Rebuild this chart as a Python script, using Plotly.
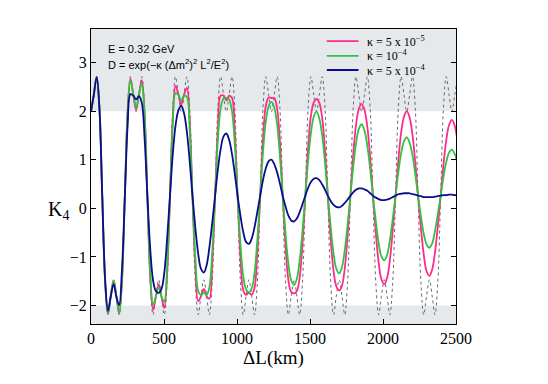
import plotly.graph_objects as go

# baseline difference in km (sampled at ~1/16 of the oscillation period)
dl_km = [
    0, 19, 39, 58, 77, 97, 116, 135, 155, 174, 193, 212, 232, 251, 270, 290,
    309, 328, 348, 367, 386, 406, 425, 444, 464, 483, 502, 521, 541, 560, 579, 599,
    618, 637, 657, 676, 695, 715, 734, 753, 773, 792, 811, 830, 850, 869, 888, 908,
    927, 946, 966, 985, 1004, 1024, 1043, 1062, 1082, 1101, 1120, 1139, 1159, 1178, 1197, 1217,
    1236, 1255, 1275, 1294, 1313, 1333, 1352, 1371, 1391, 1410, 1429, 1448, 1468, 1487, 1506, 1526,
    1545, 1564, 1584, 1603, 1622, 1642, 1661, 1680, 1700, 1719, 1738, 1757, 1777, 1796, 1815, 1835,
    1854, 1873, 1893, 1912, 1931, 1951, 1970, 1989, 2009, 2028, 2047, 2066, 2086, 2105, 2124, 2144,
    2163, 2182, 2202, 2221, 2240, 2260, 2279, 2298, 2318, 2337, 2356, 2375, 2395, 2414, 2433, 2453,
    2472, 2491, 2511,
]

# no decoherence (dotted)
k4_no_dec = [
    1.99, 2.33, 2.71, 2.06, 0.26, -1.54, -2.19, -1.81, -1.47, -1.81, -2.19, -1.54, 0.26, 2.06, 2.71, 2.33,
    1.99, 2.33, 2.71, 2.06, 0.26, -1.54, -2.19, -1.81, -1.47, -1.81, -2.19, -1.54, 0.26, 2.06, 2.71, 2.33,
    1.99, 2.33, 2.71, 2.06, 0.26, -1.54, -2.19, -1.81, -1.47, -1.81, -2.19, -1.54, 0.26, 2.06, 2.71, 2.33,
    1.99, 2.33, 2.71, 2.06, 0.26, -1.54, -2.19, -1.81, -1.47, -1.81, -2.19, -1.54, 0.26, 2.06, 2.71, 2.33,
    1.99, 2.33, 2.71, 2.06, 0.26, -1.54, -2.19, -1.81, -1.47, -1.81, -2.19, -1.54, 0.26, 2.06, 2.71, 2.33,
    1.99, 2.33, 2.71, 2.06, 0.26, -1.54, -2.19, -1.81, -1.47, -1.81, -2.19, -1.54, 0.26, 2.06, 2.71, 2.33,
    1.99, 2.33, 2.71, 2.06, 0.26, -1.54, -2.19, -1.81, -1.47, -1.81, -2.19, -1.54, 0.26, 2.06, 2.71, 2.33,
    1.99, 2.33, 2.71, 2.06, 0.26, -1.54, -2.19, -1.81, -1.47, -1.81, -2.19, -1.54, 0.26, 2.06, 2.71, 2.33,
    1.99, 2.33, 2.71,
]

# kappa = 5e-5
k4_kappa_5e5 = [
    1.99, 2.33, 2.71, 2.06, 0.26, -1.53, -2.18, -1.81, -1.48, -1.81, -2.17, -1.51, 0.26, 2.01, 2.67, 2.33,
    2.03, 2.33, 2.64, 1.97, 0.26, -1.43, -2.09, -1.82, -1.56, -1.82, -2.05, -1.37, 0.26, 1.86, 2.52, 2.34,
    2.13, 2.34, 2.48, 1.79, 0.26, -1.24, -1.91, -1.81, -1.66, -1.81, -1.86, -1.16, 0.26, 1.65, 2.32, 2.32,
    2.22, 2.32, 2.27, 1.57, 0.26, -1.02, -1.69, -1.78, -1.74, -1.78, -1.64, -0.94, 0.26, 1.43, 2.10, 2.28,
    2.27, 2.27, 2.05, 1.36, 0.26, -0.81, -1.48, -1.72, -1.75, -1.70, -1.43, -0.75, 0.26, 1.24, 1.90, 2.18,
    2.25, 2.17, 1.85, 1.18, 0.26, -0.65, -1.28, -1.60, -1.69, -1.59, -1.24, -0.59, 0.26, 1.10, 1.71, 2.05,
    2.15, 2.03, 1.67, 1.05, 0.26, -0.51, -1.11, -1.46, -1.56, -1.43, -1.07, -0.47, 0.26, 0.98, 1.55, 1.89,
    2.00, 1.87, 1.51, 0.94, 0.26, -0.41, -0.95, -1.29, -1.39, -1.26, -0.91, -0.38, 0.26, 0.89, 1.40, 1.72,
    1.82, 1.70, 1.36,
]

# kappa = 1e-4
k4_kappa_1e4 = [
    1.99, 2.33, 2.71, 2.05, 0.26, -1.52, -2.17, -1.81, -1.49, -1.81, -2.15, -1.48, 0.26, 1.97, 2.63, 2.34,
    2.07, 2.34, 2.57, 1.89, 0.26, -1.34, -1.99, -1.82, -1.62, -1.82, -1.92, -1.23, 0.26, 1.71, 2.37, 2.33,
    2.21, 2.32, 2.29, 1.59, 0.26, -1.03, -1.70, -1.78, -1.74, -1.78, -1.62, -0.92, 0.26, 1.40, 2.06, 2.26,
    2.27, 2.24, 1.99, 1.30, 0.26, -0.75, -1.40, -1.67, -1.73, -1.65, -1.33, -0.66, 0.26, 1.15, 1.78, 2.10,
    2.19, 2.08, 1.72, 1.08, 0.26, -0.54, -1.14, -1.48, -1.58, -1.45, -1.08, -0.48, 0.26, 0.98, 1.54, 1.89,
    1.99, 1.85, 1.49, 0.93, 0.26, -0.39, -0.92, -1.24, -1.34, -1.21, -0.86, -0.35, 0.26, 0.85, 1.33, 1.64,
    1.73, 1.60, 1.28, 0.81, 0.26, -0.27, -0.71, -0.99, -1.07, -0.96, -0.66, -0.23, 0.26, 0.74, 1.13, 1.38,
    1.46, 1.35, 1.09, 0.70, 0.26, -0.17, -0.52, -0.74, -0.81, -0.72, -0.47, -0.13, 0.26, 0.64, 0.95, 1.15,
    1.21, 1.12, 0.91,
]

# kappa = 5e-4
k4_kappa_5e4 = [
    1.99, 2.33, 2.70, 2.03, 0.26, -1.47, -2.11, -1.82, -1.56, -1.82, -1.99, -1.27, 0.26, 1.71, 2.35, 2.32,
    2.24, 2.31, 2.17, 1.45, 0.26, -0.85, -1.48, -1.70, -1.74, -1.66, -1.33, -0.64, 0.26, 1.11, 1.70, 2.02,
    2.11, 1.96, 1.57, 0.97, 0.26, -0.41, -0.93, -1.24, -1.32, -1.17, -0.80, -0.31, 0.26, 0.80, 1.22, 1.48,
    1.54, 1.41, 1.11, 0.71, 0.26, -0.16, -0.49, -0.69, -0.73, -0.62, -0.39, -0.08, 0.26, 0.58, 0.82, 0.97,
    1.00, 0.91, 0.74, 0.51, 0.26, 0.03, -0.15, -0.25, -0.27, -0.21, -0.08, 0.08, 0.26, 0.42, 0.54, 0.61,
    0.62, 0.58, 0.49, 0.38, 0.26, 0.15, 0.07, 0.03, 0.02, 0.05, 0.11, 0.18, 0.26, 0.33, 0.38, 0.41,
    0.41, 0.39, 0.36, 0.31, 0.26, 0.22, 0.19, 0.17, 0.17, 0.18, 0.20, 0.23, 0.26, 0.29, 0.30, 0.31,
    0.31, 0.31, 0.29, 0.28, 0.26, 0.25, 0.23, 0.23, 0.23, 0.23, 0.24, 0.25, 0.26, 0.27, 0.27, 0.28,
    0.28, 0.27, 0.27,
]

legend_labels = ['κ = 5 x 10<sup>−5</sup>', 'κ = 10<sup>−4</sup>', 'κ = 5 x 10<sup>−4</sup>']
colors = ['#ff2a8c', '#33c23f', '#0c0c8f']
curves = [k4_kappa_5e5, k4_kappa_1e4, k4_kappa_5e4]

fig = go.Figure()
fig.add_trace(go.Scatter(x=dl_km, y=k4_no_dec, mode='lines', showlegend=False,
                         line=dict(color='#6a6a6a', width=1, dash='dot', shape='spline')))
for name, vals, col in zip(legend_labels, curves, colors):
    fig.add_trace(go.Scatter(x=dl_km, y=vals, mode='lines', name=name, showlegend=False,
                             line=dict(color=col, width=1.8, shape='spline')))

# grey bands beyond |K4| = 2
fig.add_shape(type='rect', xref='paper', x0=0, x1=1, yref='y', y0=2, y1=3.69,
              fillcolor='#e6e9ec', line_width=0, layer='below')
fig.add_shape(type='rect', xref='paper', x0=0, x1=1, yref='y', y0=-2.38, y1=-2,
              fillcolor='#e6e9ec', line_width=0, layer='below')

# legend drawn by hand (compact rows like the original)
legend_y = [0.959, 0.909, 0.861]
for lab, col, ly in zip(legend_labels, colors, legend_y):
    fig.add_shape(type='line', xref='paper', yref='paper', x0=0.646, x1=0.733, y0=ly, y1=ly,
                  line=dict(color=col, width=1.8))
    fig.add_annotation(x=0.752, y=ly, xref='paper', yref='paper', xanchor='left', yanchor='middle',
                       text=lab, showarrow=False,
                       font=dict(family='Liberation Serif', size=12, color='black'))

fig.add_annotation(x=0.042, y=0.932, xref='paper', yref='paper', xanchor='left', yanchor='middle',
                   text='E = 0.32 GeV', showarrow=False,
                   font=dict(family='Liberation Sans', size=11, color='black'))
fig.add_annotation(x=0.042, y=0.880, xref='paper', yref='paper', xanchor='left', yanchor='middle',
                   text='D = exp(−κ (Δm<sup>2</sup>)<sup>2</sup> L<sup>2</sup>/E<sup>2</sup>)', showarrow=False,
                   font=dict(family='Liberation Sans', size=11, color='black'))
fig.add_annotation(x=-0.088, y=0.386, xref='paper', yref='paper', xanchor='center', yanchor='middle',
                   text='K<sub>4</sub>', showarrow=False,
                   font=dict(family='Liberation Serif', size=20, color='black'))

fig.update_xaxes(range=[0, 2500], tickvals=[0, 500, 1000, 1500, 2000, 2500],
                 ticks='inside', ticklen=5, tickcolor='black', showline=True, linecolor='black',
                 linewidth=1, mirror=True, showgrid=False, zeroline=False,
                 tickfont=dict(family='Liberation Serif', size=16, color='black'),
                 title=dict(text='ΔL(km)', standoff=2,
                            font=dict(family='Liberation Serif', size=19, color='black')))
fig.update_yaxes(range=[-2.38, 3.69], tickvals=[-2, -1, 0, 1, 2, 3],
                 ticks='inside', ticklen=5, tickcolor='black', showline=True, linecolor='black',
                 linewidth=1, mirror='ticks', showgrid=False, zeroline=False,
                 tickfont=dict(family='Liberation Serif', size=16, color='black'))

# page body adds an 8 px offset, so margins are shifted to keep the plot box in place
fig.update_layout(width=548, height=384, margin=dict(l=83, r=100, t=21, b=68),
                  paper_bgcolor='white', plot_bgcolor='white', showlegend=False)

fig.write_html('out.html')
